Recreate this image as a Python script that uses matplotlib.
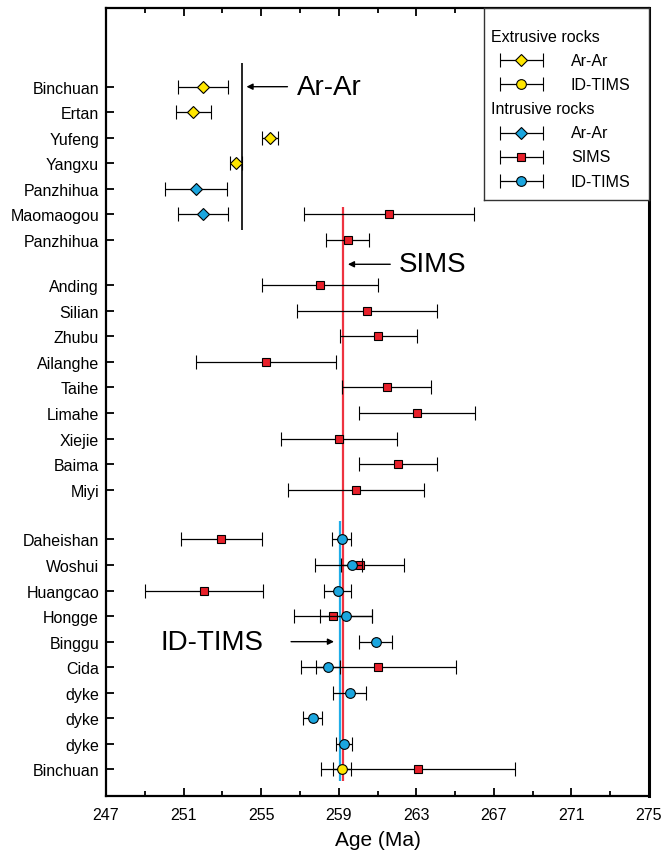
import matplotlib.pyplot as plt

plt.rcParams['font.family'] = ['Liberation Sans', 'DejaVu Sans']

# row labels, top to bottom, in three groups
group_top = ['Binchuan', 'Ertan', 'Yufeng', 'Yangxu', 'Panzhihua', 'Maomaogou', 'Panzhihua']
group_mid = ['Anding', 'Silian', 'Zhubu', 'Ailanghe', 'Taihe', 'Limahe', 'Xiejie', 'Baima', 'Miyi']
group_bot = ['Daheishan', 'Woshui', 'Huangcao', 'Hongge', 'Binggu', 'Cida',
             'dyke', 'dyke', 'dyke', 'Binchuan']

# x axis ticks
major_ticks = [247, 251, 255, 259, 263, 267, 271, 275]
minor_ticks = [249, 253, 257, 261, 265, 269, 273]

# extrusive rocks, Ar-Ar
ext_arar_rows = [0, 1, 2, 3]
ext_arar_age = [252.0, 251.5, 255.45, 253.7]
ext_arar_err = [1.3, 0.9, 0.4, 0.3]

# extrusive rocks, ID-TIMS
ext_tims_rows = [25]
ext_tims_age = [259.16]
ext_tims_err = [0.48]

# intrusive rocks, Ar-Ar
int_arar_rows = [4, 5]
int_arar_age = [251.65, 252.0]
int_arar_err = [1.6, 1.3]

# intrusive rocks, SIMS
sims_rows = [5, 6, 7, 8, 9, 10, 11, 12, 13, 14, 15, 16, 17, 18, 19, 21, 25]
sims_age = [261.6, 259.47, 258.05, 260.45, 261.05, 255.25, 261.47, 263.05, 259.0,
            262.05, 259.88, 252.95, 260.08, 252.04, 258.72, 261.05, 263.07]
sims_err = [4.4, 1.1, 3.0, 3.6, 2.0, 3.6, 2.3, 3.0, 3.0,
            2.0, 3.5, 2.1, 2.3, 3.05, 2.0, 4.0, 5.0]

# intrusive rocks, ID-TIMS
int_tims_rows = [16, 17, 18, 19, 20, 21, 22, 23, 24]
int_tims_age = [259.15, 259.67, 258.94, 259.38, 260.9, 258.43, 259.56, 257.66, 259.26]
int_tims_err = [0.5, 0.53, 0.7, 1.33, 0.85, 0.62, 0.83, 0.5, 0.42]

# weighted mean ages (vertical lines)
arar_mean = 254.0
sims_mean = 259.2
tims_mean = 259.05

YELLOW = '#FFE600'
BLUE = '#1BA6DF'
RED = '#E8202A'

# row positions with gaps between groups
gaps = [1.77, 1.95]
groups = [group_top, group_mid, group_bot]
labels = []
ypos = []
y = 0.0
for gi, grp in enumerate(groups):
    if gi > 0:
        y += gaps[gi - 1] - 1
    for name in grp:
        labels.append(name)
        ypos.append(y)
        y += 1

fig = plt.figure(figsize=(6.62, 8.53), dpi=100)
ax = fig.add_axes([106 / 662, 1 - 797 / 853, 543 / 662, 788 / 853])


def plot_series(rows, ages, errs, marker, color, ms, z=3):
    ax.errorbar(ages, [ypos[r] for r in rows], xerr=errs, fmt=marker,
                mfc=color, mec='black', mew=0.8, ms=ms,
                ecolor='black', elinewidth=0.9, capsize=4.7, capthick=2.0,
                zorder=z)


# mean lines
ax.vlines(arar_mean, ypos[0] - 0.93, ypos[5] + 0.6, color='black', lw=1.2, zorder=2)
ax.vlines(sims_mean, ypos[5] - 0.3, ypos[25] + 0.45, color='#EE3340', lw=1.6, zorder=2)
ax.vlines(tims_mean, ypos[16] - 0.72, ypos[25] + 0.45, color='#1EADE8', lw=1.6, zorder=2)

plot_series(ext_arar_rows, ext_arar_age, ext_arar_err, 'D', YELLOW, 6.2)
plot_series(int_arar_rows, int_arar_age, int_arar_err, 'D', BLUE, 6.2)
plot_series(sims_rows, sims_age, sims_err, 's', RED, 6.3)
plot_series(int_tims_rows, int_tims_age, int_tims_err, 'o', BLUE, 7.0, z=4)
plot_series(ext_tims_rows, ext_tims_age, ext_tims_err, 'o', YELLOW, 7.0, z=4)

# annotations
arrow = dict(arrowstyle='-|>', color='black', lw=1.0, mutation_scale=9)
ax.annotate('', xy=(254.1, ypos[0]), xytext=(256.5, ypos[0]), arrowprops=arrow)
ax.text(256.85, ypos[0], 'Ar-Ar', fontsize=20, va='center', ha='left')
ax.annotate('', xy=(259.33, ypos[6] + 0.95), xytext=(261.8, ypos[6] + 0.95), arrowprops=arrow)
ax.text(262.1, ypos[6] + 0.95, 'SIMS', fontsize=20, va='center', ha='left')
ax.annotate('', xy=(258.9, ypos[20]), xytext=(256.4, ypos[20]), arrowprops=arrow)
ax.text(255.1, ypos[20], 'ID-TIMS', fontsize=20, va='center', ha='right')

# axes styling
ax.set_xlim(247, 275)
ax.set_ylim(ypos[-1] + 1.04, -3.08)
ax.set_xticks(major_ticks)
ax.set_xticks(minor_ticks, minor=True)
ax.set_yticks(ypos)
ax.set_yticklabels(labels, fontsize=11.5)
ax.tick_params(axis='x', which='both', direction='in', top=True, labelsize=11.5,
               width=1.3, pad=8)
ax.tick_params(axis='x', which='major', length=6)
ax.tick_params(axis='x', which='minor', length=3.5)
ax.tick_params(axis='y', direction='in', length=6, width=1.3, pad=5)
for s in ax.spines.values():
    s.set_linewidth(1.6)
ax.spines['right'].set_linewidth(2.2)
ax.set_xlabel('Age (Ma)', fontsize=15, labelpad=6)

# legend box drawn by hand (top right corner)
lax = fig.add_axes([484 / 662, 1 - 201 / 853, 165 / 662, 192 / 853], zorder=5)
lax.set_xlim(0, 165)
lax.set_ylim(192, 0)
lax.set_xticks([])
lax.set_yticks([])
for s in lax.spines.values():
    s.set_linewidth(1.0)
    s.set_color('#333333')

legend_items = [
    ('Extrusive rocks', None, None),
    ('Ar-Ar', 'D', YELLOW),
    ('ID-TIMS', 'o', YELLOW),
    ('Intrusive rocks', None, None),
    ('Ar-Ar', 'D', BLUE),
    ('SIMS', 's', RED),
    ('ID-TIMS', 'o', BLUE),
]
for i, (text, mk, col) in enumerate(legend_items):
    ly = 28 + 24.2 * i
    if mk is None:
        lax.text(7, ly, text, fontsize=11.5, va='center', ha='left')
    else:
        ms = {'D': 6.2, 's': 6.3, 'o': 7.0}[mk]
        lax.errorbar([37], [ly], xerr=[21.5], fmt=mk, mfc=col, mec='black', mew=0.8,
                     ms=ms, ecolor='black', elinewidth=0.9, capsize=4.7, capthick=2.0)
        lax.text(87, ly, text, fontsize=11.5, va='center', ha='left')

fig.savefig('out.png', dpi=100)
